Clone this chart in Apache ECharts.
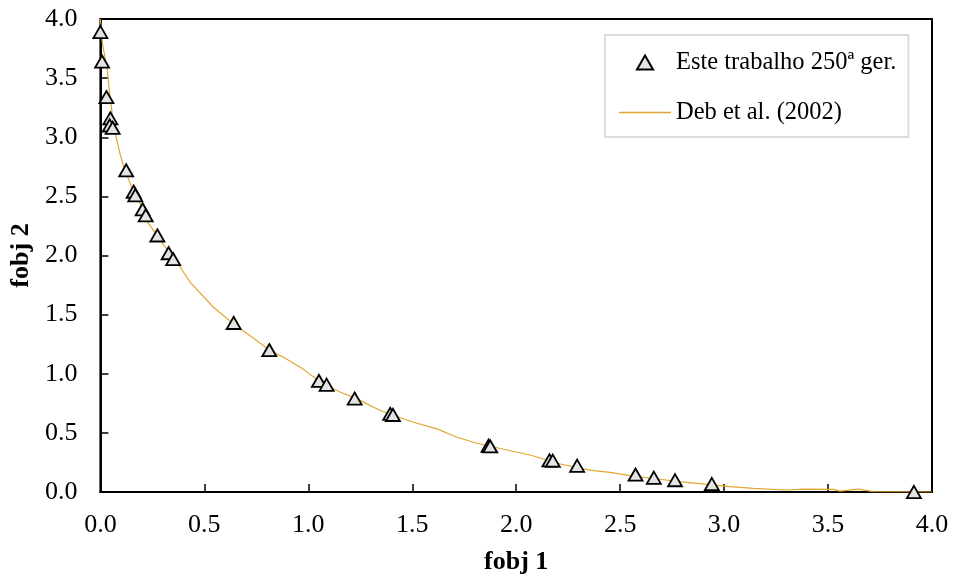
<!DOCTYPE html>
<html>
<head>
<meta charset="utf-8">
<title>fobj 1 x fobj 2</title>
<script src="https://cdn.jsdelivr.net/npm/echarts@6/dist/echarts.min.js"></script>
<style>
  html, body { margin: 0; padding: 0; background: #fff; }
  #chart { width: 955px; height: 581px; }
</style>
</head>
<body>
<div id="chart"></div>
<script>
// pontos obtidos (250a geracao)
var ptsX = [0.000, 0.008, 0.029, 0.048, 0.045, 0.059, 0.124, 0.160, 0.168, 0.203, 0.218, 0.274, 0.328, 0.350,
            0.641, 0.8125, 1.051, 1.088, 1.223, 1.394, 1.407, 1.867, 1.875, 2.160, 2.176, 2.293,
            2.574, 2.662, 2.764, 2.941, 3.913];
var ptsY = [3.89, 3.64, 3.34, 3.16, 3.10, 3.08, 2.72, 2.54, 2.51, 2.39, 2.34, 2.17, 2.02, 1.97,
            1.43, 1.20, 0.94, 0.907, 0.79, 0.661, 0.652, 0.392, 0.386, 0.268, 0.265, 0.222,
            0.147, 0.121, 0.100, 0.068, 0.0];

// curva de referencia Deb et al. (2002)
var curveX = [0.000, 0.005, 0.011, 0.032, 0.043, 0.053, 0.064, 0.077, 0.096, 0.112, 0.168, 0.192, 0.224,
              0.304, 0.377, 0.433, 0.545, 0.641, 0.737, 0.8125, 0.881, 0.978, 1.058, 1.154, 1.218,
              1.266, 1.346, 1.506, 1.619, 1.715, 1.811, 1.923, 2.067, 2.212, 2.324, 2.372, 2.452,
              2.548, 2.676, 2.820, 3.029, 3.141, 3.301, 3.382, 3.526, 3.558, 3.646, 3.718, 4.000];
var curveY = [4.00, 3.88, 3.78, 3.58, 3.39, 3.25, 3.10, 2.99, 2.85, 2.75, 2.50, 2.44, 2.29,
              2.09, 1.92, 1.77, 1.56, 1.42, 1.30, 1.20, 1.14, 1.035, 0.93, 0.844, 0.80,
              0.76, 0.689, 0.59, 0.534, 0.463, 0.412, 0.368, 0.313, 0.237, 0.195, 0.18, 0.166,
              0.138, 0.110, 0.081, 0.045, 0.031, 0.017, 0.025, 0.022, 0.008, 0.025, 0.003, 0.0];

var serif = "'Liberation Serif', 'Times New Roman', serif";
var triangle = 'path://M50,0 L100,87 L0,87 Z';
var shortLine = 'path://M0,0 L52,0 L52,1.3 L0,1.3 Z';

function pairs(xs, ys) {
  var out = [];
  for (var i = 0; i < xs.length; i++) out.push([xs[i], ys[i]]);
  return out;
}

var myChart = echarts.init(document.getElementById('chart'));

myChart.setOption({
  animation: false,
  textStyle: { fontFamily: serif, color: '#000' },
  grid: {
    left: 100, right: 23, top: 19, bottom: 89,
    show: true, borderColor: '#000', borderWidth: 2
  },
  legend: {
    orient: 'vertical',
    left: 605, top: 35,
    padding: [15, 12, 12, 14],
    itemGap: 25,
    itemWidth: 52,
    itemHeight: 14,
    borderColor: '#dcdcdc',
    borderWidth: 2,
    textStyle: { fontFamily: serif, fontSize: 24.5, color: '#000' },
    data: [
      { name: 'Este trabalho 250ª ger.', icon: triangle },
      { name: 'Deb et al. (2002)', icon: shortLine }
    ]
  },
  xAxis: {
    type: 'value', min: 0, max: 4, interval: 0.5,
    name: 'fobj 1', nameLocation: 'middle', nameGap: 57,
    nameTextStyle: { fontFamily: serif, fontSize: 26, fontWeight: 'bold', color: '#000' },
    axisLine: { show: true, lineStyle: { color: '#000', width: 2 } },
    axisTick: { show: true, inside: true, length: 8, lineStyle: { color: '#000', width: 1.5 } },
    axisLabel: { fontFamily: serif, fontSize: 26, color: '#000', margin: 20,
                 formatter: function (v) { return v.toFixed(1); } },
    splitLine: { show: false }
  },
  yAxis: {
    type: 'value', min: 0, max: 4, interval: 0.5,
    name: 'fobj 2', nameLocation: 'middle', nameGap: 57,
    nameTextStyle: { fontFamily: serif, fontSize: 26, fontWeight: 'bold', color: '#000' },
    axisLine: { show: true, lineStyle: { color: '#000', width: 2 } },
    axisTick: { show: true, inside: true, length: 8, lineStyle: { color: '#000', width: 1.5 } },
    axisLabel: { fontFamily: serif, fontSize: 26, color: '#000', margin: 23,
                 formatter: function (v) { return v.toFixed(1); } },
    splitLine: { show: false }
  },
  series: [
    {
      name: 'Deb et al. (2002)',
      type: 'line',
      data: pairs(curveX, curveY),
      showSymbol: false,
      lineStyle: { color: '#E2A630', width: 1.2 },
      itemStyle: { color: '#E2A630' },
      z: 2
    },
    {
      name: 'Este trabalho 250ª ger.',
      type: 'scatter',
      data: pairs(ptsX, ptsY),
      symbol: triangle,
      symbolSize: 14,
      symbolKeepAspect: true,
      clip: false,
      itemStyle: { color: '#e3e3e3', borderColor: '#000', borderWidth: 1.8, opacity: 1 },
      z: 3
    }
  ]
});
</script>
</body>
</html>
